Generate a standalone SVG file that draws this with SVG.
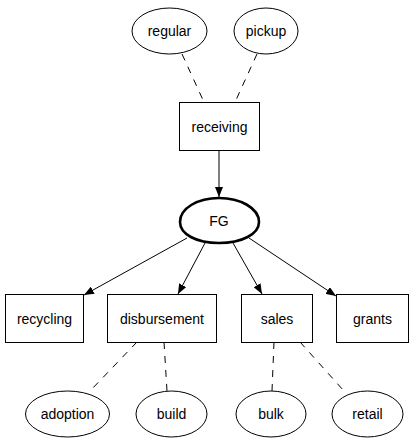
<svg xmlns="http://www.w3.org/2000/svg" width="413" height="443" viewBox="0 0 413 443">
<defs>
<style>
text{font-family:"Liberation Sans",Arial,sans-serif;font-size:14px;fill:#000;text-anchor:middle;dominant-baseline:central}
.n{fill:#fff;stroke:#000;stroke-width:1}
.e{fill:none;stroke:#000;stroke-width:1}
.d{fill:none;stroke:#000;stroke-width:1;stroke-dasharray:7,7}
</style>
<marker id="ah" markerWidth="10" markerHeight="8" refX="10" refY="4" orient="auto" markerUnits="userSpaceOnUse">
<path d="M0,0 L10,4 L0,8 Z" fill="#000"/>
</marker>
</defs>
<rect width="413" height="443" fill="#fff"/>
<g id="edges">
<path class="d" d="M182,54 L203,100"/>
<path class="d" d="M257,54 L236,100"/>
<path class="e" d="M219,150 L219,197" marker-end="url(#ah)"/>
<path class="e" d="M187,238 L84,295" marker-end="url(#ah)"/>
<path class="e" d="M205,243 L178,294" marker-end="url(#ah)"/>
<path class="e" d="M233,243 L262,294" marker-end="url(#ah)"/>
<path class="e" d="M249,238 L336,296" marker-end="url(#ah)"/>
<path class="d" d="M137,342 L90,391"/>
<path class="d" d="M164,342 L167,391"/>
<path class="d" d="M274,342 L272,391"/>
<path class="d" d="M300,342 L344,391"/>
</g>
<g id="regular"><ellipse class="n" cx="169.5" cy="31" rx="37.5" ry="23"/><text x="169.5" y="31">regular</text></g>
<g id="pickup"><ellipse class="n" cx="266" cy="31" rx="32" ry="23"/><text x="266" y="31">pickup</text></g>
<g id="receiving"><rect class="n" x="179.5" y="102.5" width="80" height="48"/><text x="219.5" y="126.5">receiving</text></g>
<g id="FG"><path d="M219,198 C240,198 259,208 259,222 C259,234 242,243 219,243 C196,243 180,234 180,222 C180,208 198,198 219,198 Z" fill="#fff" stroke="#000" stroke-width="2.6"/><text x="219" y="221">FG</text></g>
<g id="recycling"><rect class="n" x="5.5" y="294.5" width="78" height="48"/><text x="44.5" y="318.5">recycling</text></g>
<g id="disbursement"><rect class="n" x="107.5" y="294.5" width="109" height="48"/><text x="162" y="318.5">disbursement</text></g>
<g id="sales"><rect class="n" x="241.5" y="294.5" width="71" height="48"/><text x="277" y="318.5">sales</text></g>
<g id="grants"><rect class="n" x="336.5" y="294.5" width="72" height="48"/><text x="372.5" y="318.5">grants</text></g>
<g id="adoption"><ellipse class="n" cx="67.5" cy="414" rx="42" ry="23"/><text x="67.5" y="414">adoption</text></g>
<g id="build"><ellipse class="n" cx="171.5" cy="414" rx="35.5" ry="23"/><text x="171.5" y="414">build</text></g>
<g id="bulk"><ellipse class="n" cx="271" cy="414" rx="35" ry="23"/><text x="271" y="414">bulk</text></g>
<g id="retail"><ellipse class="n" cx="367.5" cy="414" rx="35.5" ry="23"/><text x="367.5" y="414">retail</text></g>
</svg>
